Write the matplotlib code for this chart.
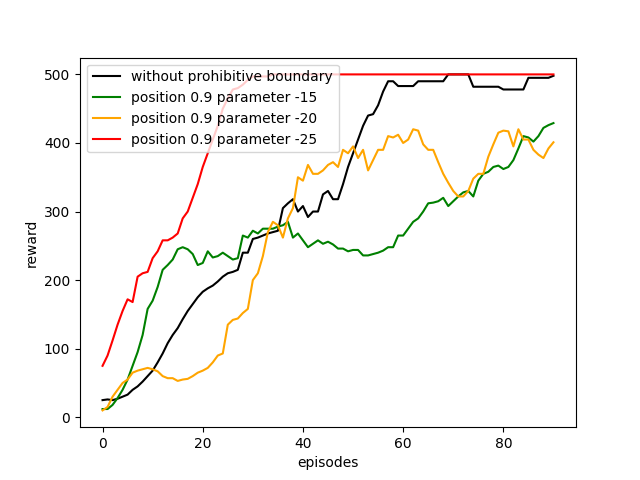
import matplotlib
matplotlib.use("Agg")
import matplotlib.pyplot as plt
import numpy as np

black = [25,26,25,27,30,33,40,45,52,60,
         68,80,93,108,120,130,143,155,165,175,
         183,188,192,198,205,210,212,215,240,240,
         260,262,265,268,270,272,305,312,318,300,
         308,292,300,300,325,330,318,318,340,365,
         385,405,425,440,442,455,475,490,490,483,
         483,483,483,490,490,490,490,490,490,500,
         500,500,500,500,482,482,482,482,482,482,
         478,478,478,478,478,495,495,495,495,495,498]
green = [12,12,18,28,40,55,75,95,120,158,
         170,190,215,222,230,245,248,245,238,222,
         225,242,233,235,240,235,230,232,265,262,
         272,268,275,275,275,278,280,285,262,268,
         258,248,253,258,253,256,252,246,246,242,
         244,244,236,236,238,240,243,248,248,265,
         265,275,285,290,300,312,313,315,320,308,
         315,322,328,330,322,345,355,358,365,367,
         362,365,375,392,410,408,402,410,422,426,429]
orange = [10,15,30,40,50,55,65,68,70,72,
          70,67,60,57,57,53,55,56,60,65,
          68,72,80,90,93,135,142,144,152,158,
          200,210,235,270,285,280,262,290,305,350,
          345,368,355,355,360,368,372,365,390,385,
          395,378,390,360,375,390,390,410,408,412,
          400,405,420,418,398,390,390,372,355,342,
          330,322,322,330,348,355,355,380,398,415,
          418,417,395,420,405,405,390,383,378,392,401]
red = [75,90,112,135,155,172,168,205,210,212,
       232,242,258,258,262,268,290,300,320,340,
       365,385,405,425,450,465,478,480,485,492,
       497,497,497,497,500] + [500]*56

x = np.arange(91)
fig, ax = plt.subplots(figsize=(6.4, 4.8), dpi=100)
ax.plot(x, black, color="black", label="without prohibitive boundary")
ax.plot(x, green, color="green", label="position 0.9 parameter -15")
ax.plot(x, orange, color="orange", label="position 0.9 parameter -20")
ax.plot(x, red, color="red", label="position 0.9 parameter -25")
ax.set_xlabel("episodes")
ax.set_ylabel("reward")
ax.legend(loc="upper left")
fig.savefig("out.png")
